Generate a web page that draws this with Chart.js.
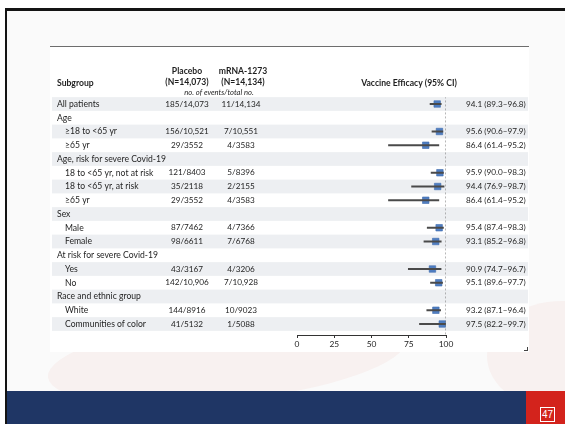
<!DOCTYPE html>
<html>
<head>
<meta charset="utf-8">
<script src="https://cdn.jsdelivr.net/npm/chart.js@4.4.1/dist/chart.umd.min.js"></script>
<style>
  html, body { margin: 0; padding: 0; }
  body { width: 565px; height: 424px; overflow: hidden; background: #fff; position: relative; font-family: Lato, sans-serif; }
  #slide { position: absolute; left: 5px; top: 8px; right: 0; bottom: 0; background: #fafafa; border-top: 3px solid #141414; border-left: 2px solid #141414; overflow: hidden; }
  .swoosh { position: absolute; border-radius: 50%; background: rgba(225, 70, 60, 0.05); }
  #panel { position: absolute; left: 50px; top: 46px; width: 479px; height: 306px; background: #fff; border-top: 1.5px solid #6d6d6d; box-sizing: border-box; }
  #corner { position: absolute; left: 524px; top: 347px; width: 3px; height: 3px; border-right: 1px solid #444; border-bottom: 1px solid #444; }
  #footer { position: absolute; left: 7px; top: 391px; width: 519px; height: 33px; background: #1f3665; }
  #pageNo { position: absolute; left: 526px; top: 391px; width: 39px; height: 33px; background: #d3231c; }
  #pageNo span { position: absolute; left: 14px; top: 16px; width: 13px; height: 13px; border: 1px solid #fff; color: #fff; font: 10px "Liberation Sans", sans-serif; line-height: 13px; text-align: center; }
  #forest { position: absolute; left: 0; top: 0; }
</style>
</head>
<body>
<div id="slide">
  <div class="swoosh" style="left:40px; top:305px; width:360px; height:85px; transform:rotate(-6deg)"></div>
  <div class="swoosh" style="left:480px; top:290px; width:150px; height:110px"></div>
</div>
<div id="panel"></div>
<div id="corner"></div>
<div id="footer"></div>
<div id="pageNo"><span>47</span></div>
<canvas id="forest" width="565" height="424"></canvas>

<script>
// rows of the forest plot, top to bottom
const subgroups = [
  "All patients",
  "Age",
  "≥18 to <65 yr",
  "≥65 yr",
  "Age, risk for severe Covid-19",
  "18 to <65 yr, not at risk",
  "18 to <65 yr, at risk",
  "≥65 yr",
  "Sex",
  "Male",
  "Female",
  "At risk for severe Covid-19",
  "Yes",
  "No",
  "Race and ethnic group",
  "White",
  "Communities of color"
]
// true = indented sub-row
const indented = [false, false, true, true, false, true, true, true, false, true, true, false, true, true, false, true, true]

const placebo = ["185/14,073", "", "156/10,521", "29/3552", "", "121/8403", "35/2118", "29/3552", "", "87/7462", "98/6611", "", "43/3167", "142/10,906", "", "144/8916", "41/5132"]
const mrna = ["11/14,134", "", "7/10,551", "4/3583", "", "5/8396", "2/2155", "4/3583", "", "4/7366", "7/6768", "", "4/3206", "7/10,928", "", "10/9023", "1/5088"]

const efficacy = [94.1, null, 95.6, 86.4, null, 95.9, 94.4, 86.4, null, 95.4, 93.1, null, 90.9, 95.1, null, 93.2, 97.5]
const ciLow = [89.3, null, 90.6, 61.4, null, 90.0, 76.9, 61.4, null, 87.4, 85.2, null, 74.7, 89.6, null, 87.1, 82.2]
const ciHigh = [96.8, null, 97.9, 95.2, null, 98.3, 98.7, 95.2, null, 98.3, 96.8, null, 96.7, 97.7, null, 96.4, 99.7]

const xTicks = [0, 25, 50, 75, 100]

const TEXT = "#1e1e1e"
const FONT = "Lato, sans-serif"
const COL_PLACEBO = 187
const COL_MRNA = 241

const rowIdx = subgroups.map((_, i) => i).filter(i => efficacy[i] !== null)

// light bands behind every other row
const stripes = {
  id: "stripes",
  beforeDatasetsDraw(chart) {
    const ctx = chart.ctx
    const y = chart.scales.y
    ctx.save()
    ctx.fillStyle = "#edeff2"
    subgroups.forEach((_, i) => {
      if (i % 2) return
      const top = y.getPixelForValue(i - 0.5)
      const bot = y.getPixelForValue(i + 0.5)
      ctx.fillRect(52, top, 476, bot - top)
    })
    ctx.restore()
  }
}

// table columns and headings
const table = {
  id: "table",
  afterDraw(chart) {
    const ctx = chart.ctx
    const y = chart.scales.y
    const y0 = y.getPixelForValue(0)
    ctx.save()
    ctx.fillStyle = TEXT
    ctx.textBaseline = "middle"

    ctx.font = "bold 8.6px " + FONT
    ctx.textAlign = "left"
    ctx.fillText("Subgroup", 57, y0 - 21)
    ctx.textAlign = "center"
    ctx.fillText("Placebo", COL_PLACEBO, y0 - 33)
    ctx.fillText("(N=14,073)", COL_PLACEBO, y0 - 22)
    ctx.fillText("mRNA-1273", COL_MRNA + 2, y0 - 33)
    ctx.fillText("(N=14,134)", COL_MRNA + 2, y0 - 22)
    ctx.fillText("Vaccine Efficacy (95% CI)", 409, y0 - 21)
    ctx.font = "italic 7.6px " + FONT
    ctx.fillText("no. of events/total no.", 219, y0 - 11)

    subgroups.forEach((name, i) => {
      const py = y.getPixelForValue(i)
      ctx.font = "8.6px " + FONT
      ctx.textAlign = "left"
      ctx.fillText(name, indented[i] ? 65 : 57, py)
      ctx.font = "8.2px " + FONT
      ctx.textAlign = "center"
      if (placebo[i]) ctx.fillText(placebo[i], COL_PLACEBO, py)
      if (mrna[i]) ctx.fillText(mrna[i], COL_MRNA, py)
      if (efficacy[i] !== null) {
        ctx.textAlign = "left"
        const label = efficacy[i].toFixed(1) + " (" + ciLow[i].toFixed(1) + "–" + ciHigh[i].toFixed(1) + ")"
        ctx.fillText(label, 466, py)
      }
    })
    ctx.restore()
  }
}

new Chart(document.getElementById("forest"), {
  type: "scatter",
  data: {
    datasets: [
      {
        type: "line",
        data: [{ x: 100, y: -0.55 }, { x: 100, y: 16.8 }],
        borderColor: "#6e6e6e",
        borderWidth: 1,
        borderDash: [2, 2],
        pointRadius: 0
      },
      {
        type: "bar",
        indexAxis: "y",
        data: rowIdx.map(i => ({ x: [ciLow[i], ciHigh[i]], y: i })),
        backgroundColor: "#4a4a4a",
        borderWidth: 0,
        barThickness: 1.2
      },
      {
        type: "scatter",
        data: rowIdx.map(i => ({ x: efficacy[i], y: i })),
        pointStyle: "rect",
        pointRadius: 4.6,
        backgroundColor: "#4f7ec2",
        borderColor: "#3f6cae",
        borderWidth: 0.6
      }
    ]
  },
  options: {
    responsive: false,
    animation: false,
    layout: { padding: { left: 297, right: 119, top: 97.125, bottom: 69 } },
    plugins: { legend: { display: false }, tooltip: { enabled: false } },
    scales: {
      x: {
        type: "linear",
        min: 0,
        max: 100,
        offset: false,
        afterBuildTicks: s => { s.ticks = xTicks.map(v => ({ value: v })) },
        afterFit: s => { s.height = 20 },
        ticks: { color: TEXT, font: { family: FONT, size: 8.4 }, padding: 1 },
        grid: { drawOnChartArea: false, drawTicks: true, tickLength: 3, color: "#333", offset: false },
        border: { display: true, color: "#333", width: 1 }
      },
      y: {
        type: "linear",
        display: false,
        offset: false,
        reverse: true,
        min: -0.5,
        max: 16.8
      }
    }
  },
  plugins: [stripes, table]
})
</script>
</body>
</html>
